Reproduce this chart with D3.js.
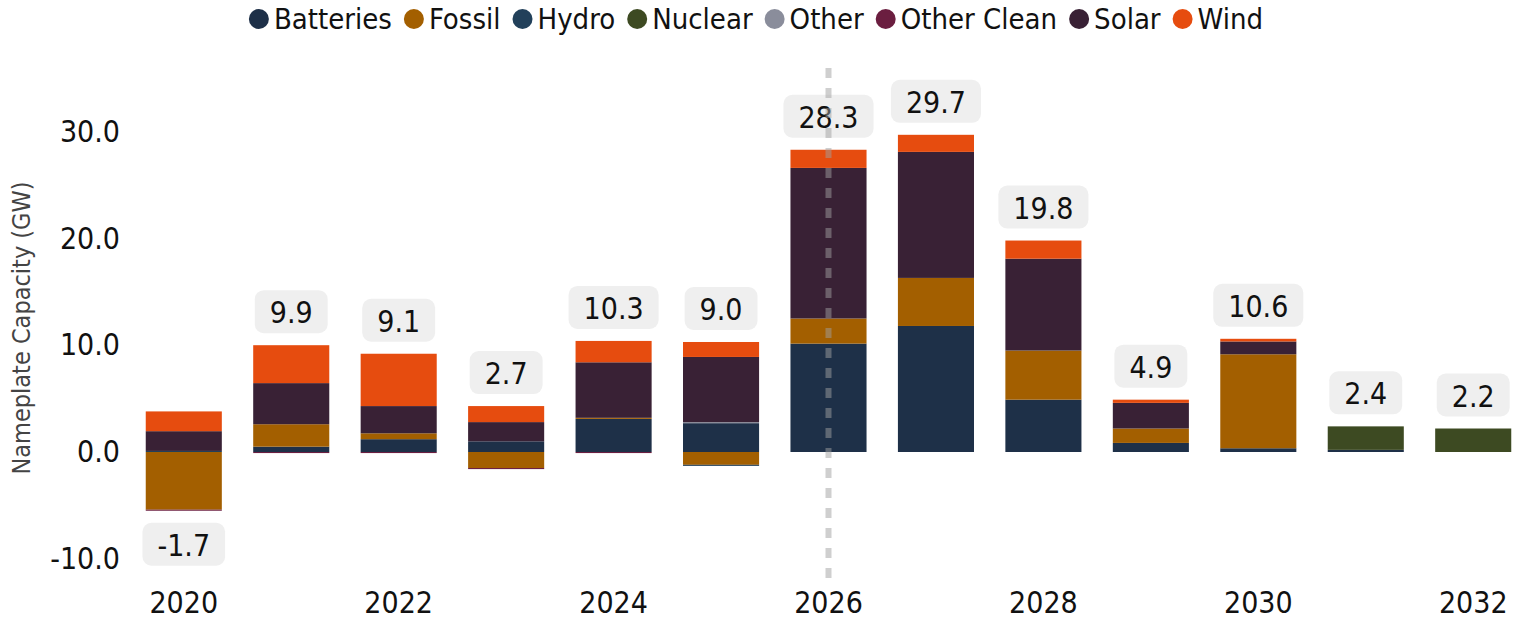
<!DOCTYPE html>
<html>
<head>
<meta charset="utf-8">
<script src="https://cdn.jsdelivr.net/npm/d3@7"></script>
<style>
  body { margin: 0; background: #fff; }
  svg text { font-family: "DejaVu Sans Condensed", "Liberation Sans", sans-serif; }
</style>
</head>
<body>
<svg width="1526" height="621"></svg>
<script>
var years = [2020, 2021, 2022, 2023, 2024, 2025, 2026, 2027, 2028, 2029, 2030, 2031, 2032];

var batteries  = [0,    0.5,  1.2,  1.0,  3.1, 2.7,  10.15, 11.8, 4.9, 0.85, 0.35, 0.2, 0];
var fossil     = [-5.4, 2.1,  0.55, -1.5, 0.1, -1.2, 2.35,  4.5,  4.6, 1.35, 8.8,  0,   0];
var hydro      = [0.1,  0,    0,    0,    0,   -0.1, 0,     0,    0,   0,    0,    0,   0];
var nuclear    = [0,    0,    0,    0,    0,   0,    0,     0,    0,   0,    0,    2.2, 2.2];
var other      = [0,    0,    0,    0,    0,   0.1,  0,     0,    0,   0,    0,    0,   0];
var otherClean = [-0.1, -0.1, -0.1, -0.1, -0.1, 0,   0,     0,    0,   0,    0,    0,   0];
var solar      = [1.85, 3.85, 2.55, 1.8,  5.2, 6.1,  14.1,  11.8, 8.6, 2.4,  1.2,  0,   0];
var wind       = [1.85, 3.55, 4.9,  1.5,  2.0, 1.4,  1.7,   1.6,  1.7, 0.3,  0.25, 0,   0];

var keys = ["Batteries", "Fossil", "Hydro", "Nuclear", "Other", "Other Clean", "Solar", "Wind"];
var colors = ["#1e3048", "#a35f00", "#22405a", "#3d4a22", "#8a8d9b", "#6b1e40", "#392135", "#e64c0f"];
var yTicks = [-10, 0, 10, 20, 30];
var markerYear = 2026;

var series = [batteries, fossil, hydro, nuclear, other, otherClean, solar, wind];
var rows = years.map(function(y, i) {
    var r = { year: y };
    keys.forEach(function(k, j) { r[k] = series[j][i]; });
    return r;
});

var svg = d3.select("svg");

var x = d3.scaleBand()
    .domain(years)
    .range([135, 1522])
    .paddingInner(0.292)
    .paddingOuter(0.1);

var y = d3.scaleLinear()
    .domain([-10, 30])
    .range([558.8, 131.6]);

var color = d3.scaleOrdinal().domain(keys).range(colors);

var stacked = d3.stack()
    .keys(keys)
    .offset(d3.stackOffsetDiverging)(rows);

// bars
svg.append("g")
  .selectAll("g")
  .data(stacked)
  .enter().append("g")
    .attr("fill", function(d) { return color(d.key); })
  .selectAll("rect")
  .data(function(d) { return d; })
  .enter().append("rect")
    .attr("x", function(d) { return x(d.data.year); })
    .attr("y", function(d) { return y(Math.max(d[0], d[1])); })
    .attr("width", x.bandwidth())
    .attr("height", function(d) { return Math.abs(y(d[0]) - y(d[1])); });

// y axis
var yAxis = svg.append("g")
    .attr("transform", "translate(120,0)")
    .call(d3.axisLeft(y).tickValues(yTicks).tickFormat(function(d) { return d.toFixed(1); }).tickSize(0).tickPadding(0));
yAxis.select(".domain").remove();
yAxis.selectAll("text")
    .attr("font-size", 30)
    .attr("fill", "#111")
    .attr("font-family", null);

svg.append("text")
    .attr("transform", "translate(30,328) rotate(-90)")
    .attr("text-anchor", "middle")
    .attr("font-size", 25)
    .attr("fill", "#444")
    .text("Nameplate Capacity (GW)");

// x axis
var xAxis = svg.append("g")
    .attr("transform", "translate(0,580)")
    .call(d3.axisBottom(x).tickValues(years.filter(function(d) { return d % 2 === 0; })).tickSize(0).tickPadding(12));
xAxis.select(".domain").remove();
xAxis.selectAll("text")
    .attr("font-size", 30)
    .attr("fill", "#111")
    .attr("font-family", null);

// total labels
var labels = svg.append("g")
  .selectAll("g")
  .data(rows)
  .enter().append("g");

labels.each(function(d) {
    var g = d3.select(this);
    var total = d3.sum(keys, function(k) { return d[k]; });
    var top = d3.sum(keys, function(k) { return Math.max(0, d[k]); });
    var bottom = d3.sum(keys, function(k) { return Math.min(0, d[k]); });
    var cx = x(d.year) + x.bandwidth() / 2;
    var rect = g.append("rect").attr("fill", "#efefef").attr("rx", 9);
    var t = g.append("text")
        .attr("x", cx)
        .attr("text-anchor", "middle")
        .attr("dominant-baseline", "central")
        .attr("font-size", 30)
        .attr("fill", "#111")
        .text(total.toFixed(1));
    var w = t.node().getComputedTextLength() + 30;
    var h = 43;
    var by = total >= 0 ? y(top) - 12 - h : y(bottom) + 12;
    rect.attr("x", cx - w / 2).attr("y", by).attr("width", w).attr("height", h);
    t.attr("y", by + h / 2 + 1);
});

// current-year marker
var mx = x(markerYear) + x.bandwidth() / 2;
svg.append("line")
    .attr("x1", mx).attr("x2", mx)
    .attr("y1", 68).attr("y2", 578)
    .attr("stroke", "#a0a0a0")
    .attr("stroke-opacity", 0.5)
    .attr("stroke-width", 6)
    .attr("stroke-dasharray", "10,10");

// legend
var legend = svg.append("g").attr("transform", "translate(0,19)");
var lx = 0;
keys.forEach(function(k) {
    var item = legend.append("g").attr("transform", "translate(" + lx + ",0)");
    item.append("circle").attr("cx", 10).attr("cy", 0).attr("r", 10).attr("fill", color(k));
    var t = item.append("text")
        .attr("x", 25)
        .attr("dominant-baseline", "central")
        .attr("font-size", 29)
        .attr("fill", "#111")
        .text(k);
    lx += 25 + t.node().getComputedTextLength() + 12;
});
var legendW = lx - 12;
legend.attr("transform", "translate(" + (756 - legendW / 2) + ",19)");
</script>
</body>
</html>
